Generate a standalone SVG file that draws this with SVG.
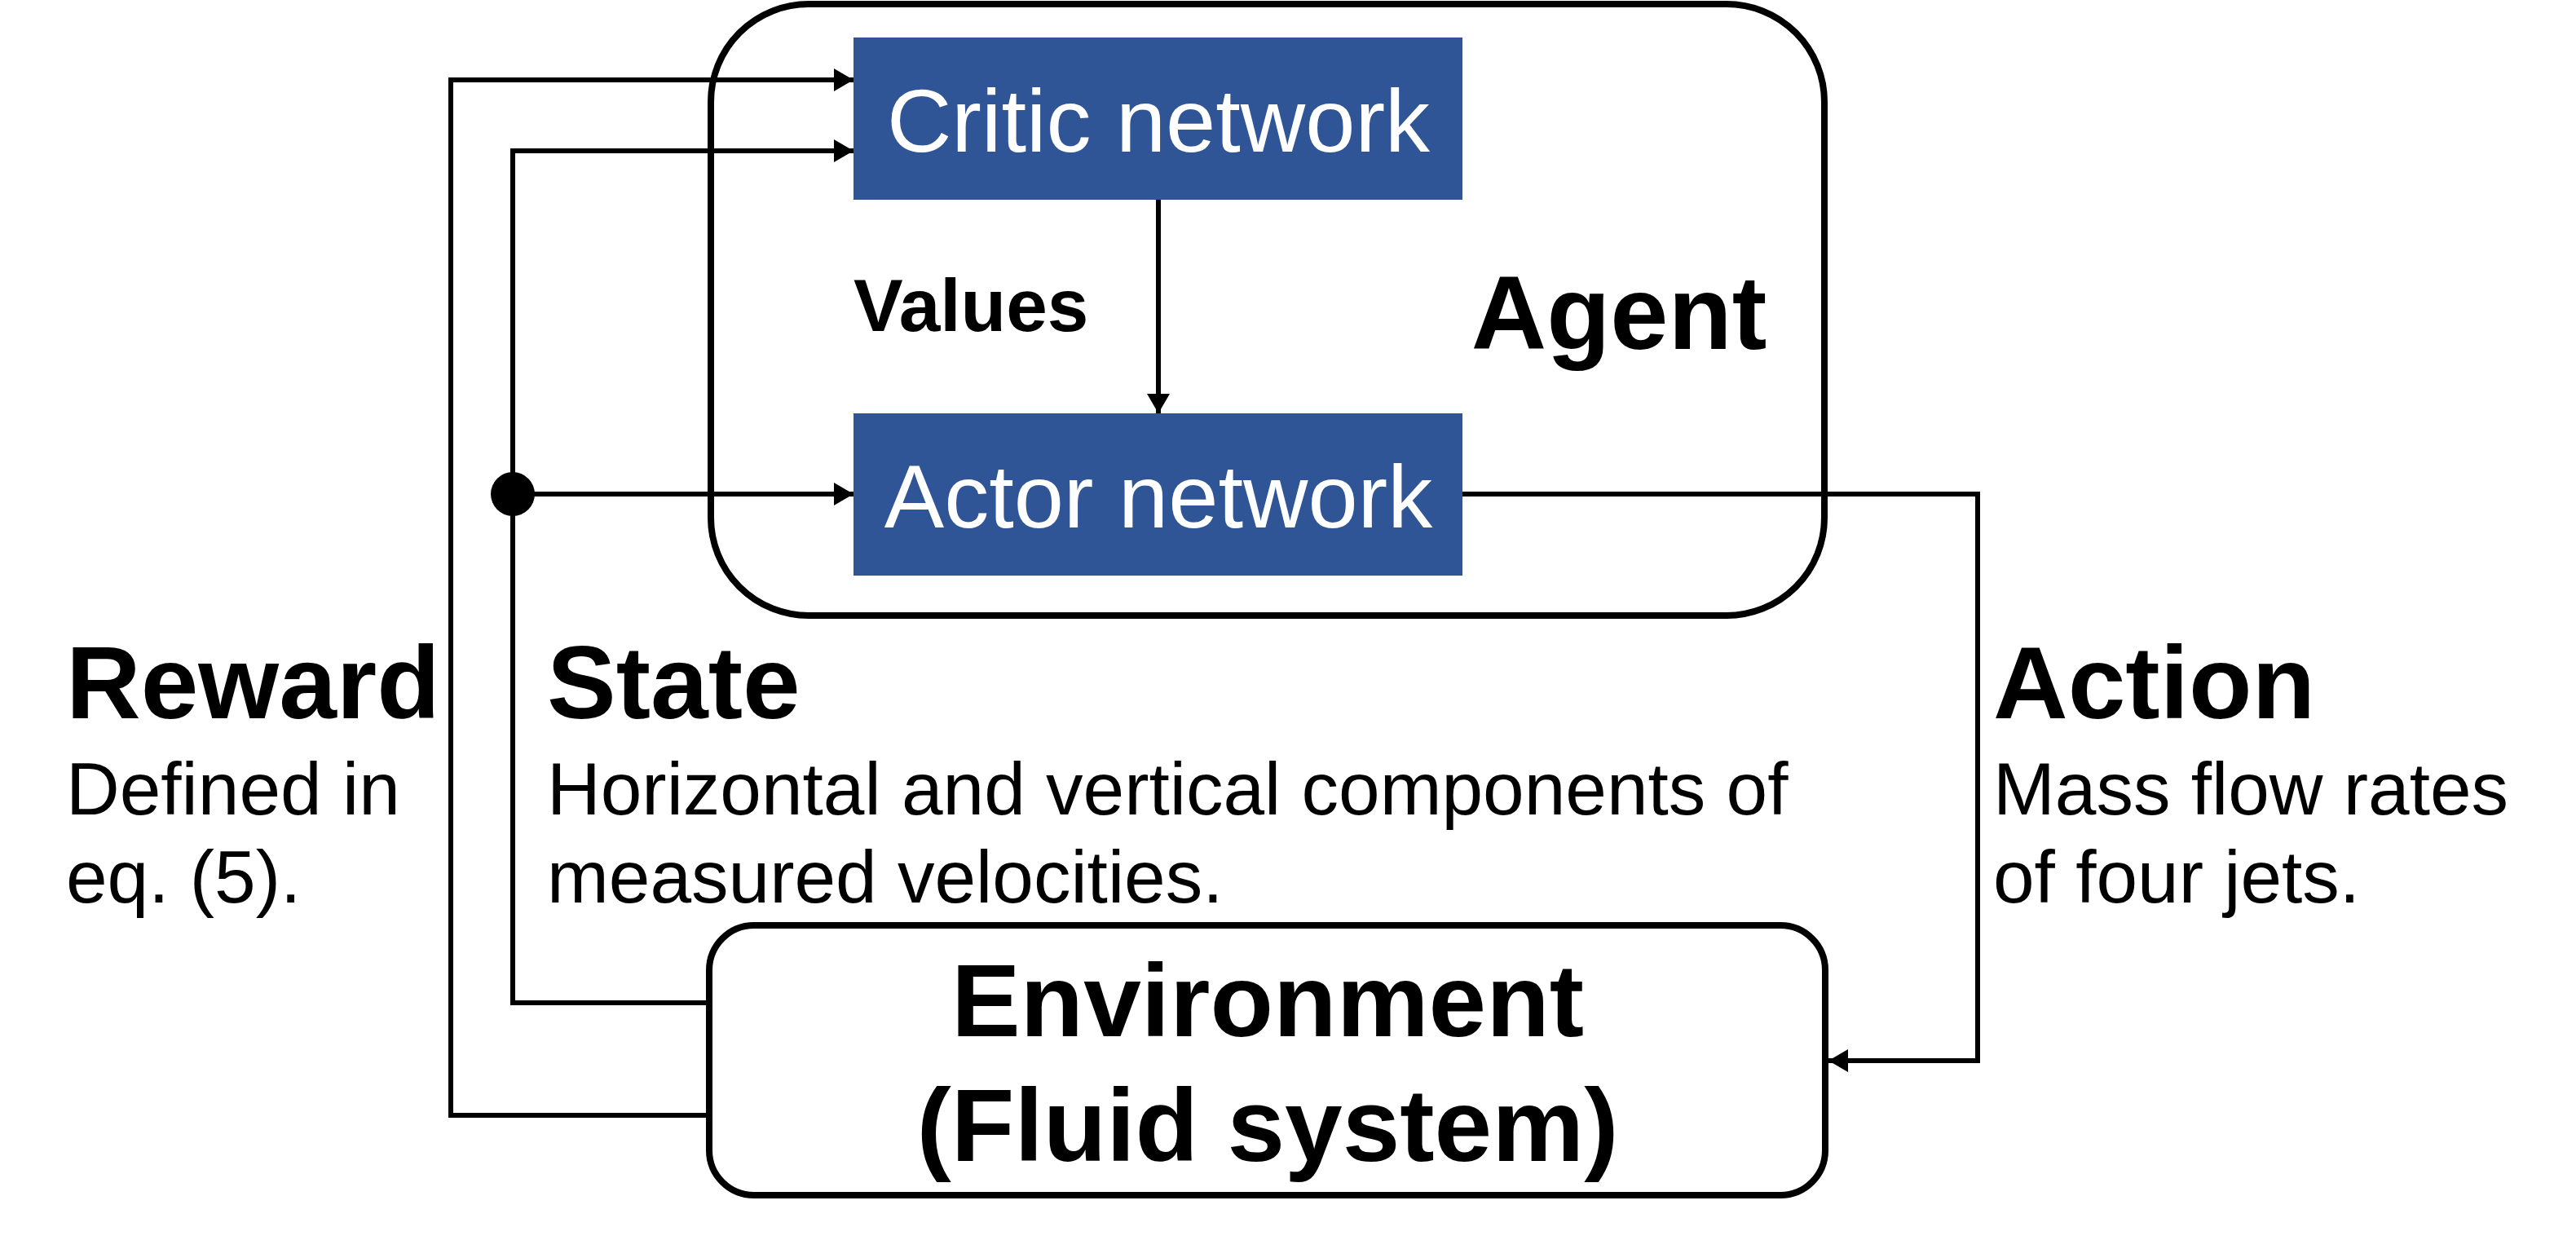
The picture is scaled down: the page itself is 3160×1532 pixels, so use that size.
<svg xmlns="http://www.w3.org/2000/svg" width="3160" height="1532" viewBox="0 0 3160 1532">
<defs>
<style>
.box{fill:none;stroke:#000;stroke-width:8}
.net{fill:#2F5597}
.nettext{font-family:"Liberation Sans",Arial,sans-serif;font-size:110px;fill:#fff;text-anchor:middle}
.conn{fill:none;stroke:#000;stroke-width:6}
.bold{font-family:"Liberation Sans",Arial,sans-serif;font-weight:bold;fill:#000}
.reg{font-family:"Liberation Sans",Arial,sans-serif;font-size:91px;fill:#000}
</style>
<marker id="arr" viewBox="0 0 24 28" refX="24" refY="14" markerWidth="24" markerHeight="28" markerUnits="userSpaceOnUse" orient="auto">
<path d="M0,0 L24,14 L0,28 Z" fill="#000"/>
</marker>
</defs>
<rect width="3160" height="1532" fill="#fff"/>
<g id="connectors">
<path class="conn" d="M870,1368 L553,1368 L553,98 L1047,98" marker-end="url(#arr)"/>
<path class="conn" d="M870,1230 L629,1230 L629,185 L1047,185" marker-end="url(#arr)"/>
<path class="conn" d="M629,606 L1047,606" marker-end="url(#arr)"/>
<path class="conn" d="M1421,245 L1421,507" marker-end="url(#arr)"/>
<path class="conn" d="M1794,606 L2426,606 L2426,1301 L2243,1301" marker-end="url(#arr)"/>
<circle cx="629" cy="606" r="27" fill="#000"/>
</g>
<g id="agent">
<rect class="box" x="872" y="5" width="1366" height="750" rx="120" ry="120"/>
<text class="bold" x="1986" y="428" font-size="128" text-anchor="middle">Agent</text>
</g>
<g id="critic">
<rect class="net" x="1047" y="46" width="747" height="199"/>
<text class="nettext" x="1421" y="186">Critic network</text>
</g>
<g id="actor">
<rect class="net" x="1047" y="507" width="747" height="199"/>
<text class="nettext" x="1421" y="647">Actor network</text>
</g>
<g id="values-label">
<text class="bold" x="1047" y="406" font-size="91">Values</text>
</g>
<g id="environment">
<rect class="box" x="870" y="1135" width="1369" height="331" rx="55" ry="55"/>
<text class="bold" x="1555" y="1271" font-size="127" text-anchor="middle">Environment</text>
<text class="bold" x="1555" y="1424" font-size="127" text-anchor="middle">(Fluid system)</text>
</g>
<g id="reward-label">
<text class="bold" x="81" y="881" font-size="127">Reward</text>
<text class="reg" x="81" y="999">Defined in</text>
<text class="reg" x="81" y="1107">eq. (5).</text>
</g>
<g id="state-label">
<text class="bold" x="671" y="881" font-size="127">State</text>
<text class="reg" x="671" y="999">Horizontal and vertical components of</text>
<text class="reg" x="671" y="1107">measured velocities.</text>
</g>
<g id="action-label">
<text class="bold" x="2445" y="881" font-size="127">Action</text>
<text class="reg" x="2445" y="999">Mass flow rates</text>
<text class="reg" x="2445" y="1107">of four jets.</text>
</g>
</svg>
